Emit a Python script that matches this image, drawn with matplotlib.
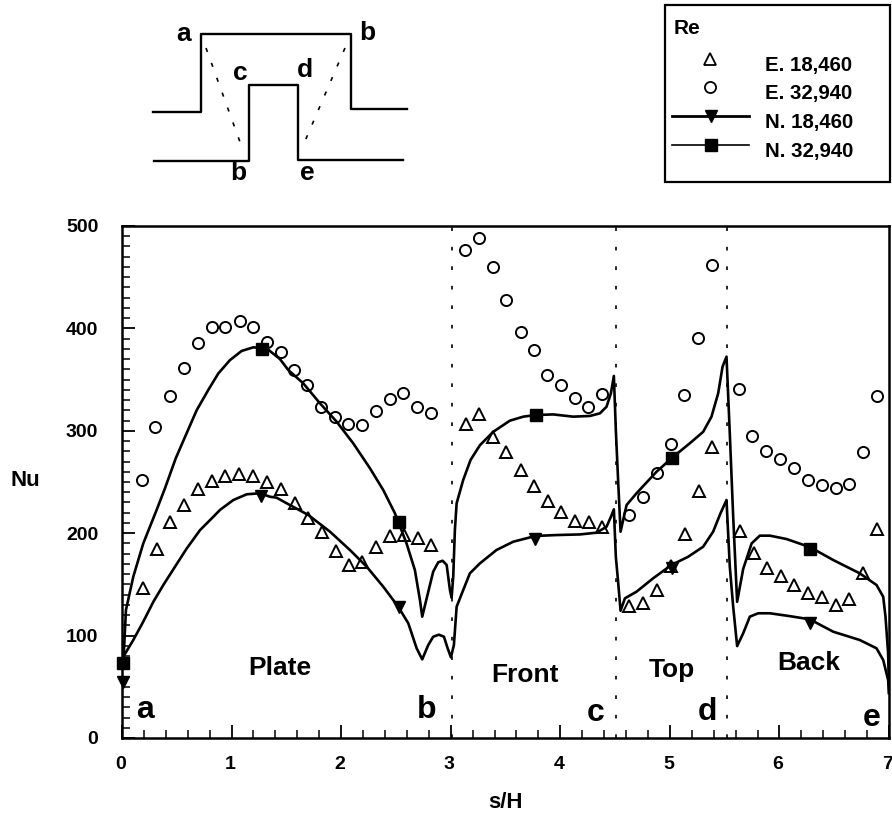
import matplotlib
matplotlib.use('Agg')
import matplotlib.pyplot as plt
from matplotlib.patches import Rectangle
from matplotlib.ticker import MultipleLocator
from matplotlib.transforms import ScaledTranslation

plt.rcParams['font.family'] = ['Liberation Sans', 'DejaVu Sans']
plt.rcParams['font.weight'] = 'bold'

W, H = 892, 815

# experimental points
exp_18460_x = [0.19, 0.316, 0.438, 0.569, 0.693, 0.821, 0.943, 1.07, 1.195, 1.323, 1.45, 1.578, 1.694,
               1.822, 1.95, 2.071, 2.193, 2.32, 2.448, 2.57, 2.698, 2.82,
               3.136, 3.26, 3.382, 3.507, 3.637, 3.762, 3.884, 4.008, 4.133, 4.258, 4.383,
               4.628, 4.754, 4.881, 5.008, 5.134, 5.262, 5.386,
               5.639, 5.764, 5.885, 6.013, 6.134, 6.262, 6.384, 6.512, 6.636, 6.76, 6.889]
exp_18460_y = [146, 185, 211, 227.5, 243, 251, 255.5, 257.5, 256, 249.7, 243, 229.8, 215,
               200.9, 182.3, 169, 172, 186.8, 197.3, 198, 195.3, 188.8,
               306.6, 316, 294, 279, 261.7, 246, 231.4, 220.7, 212.2, 211, 205.7,
               128.9, 132, 144.8, 168, 199.2, 241.5, 284.5,
               202.4, 181, 166, 158, 149.4, 141.9, 137.7, 129.9, 135.7, 161.4, 204.4]

exp_32940_x = [0.185, 0.304, 0.438, 0.563, 0.691, 0.818, 0.94, 1.074, 1.195, 1.32, 1.448, 1.569, 1.688,
               1.816, 1.94, 2.062, 2.193, 2.315, 2.448, 2.567, 2.689, 2.82,
               3.13, 3.257, 3.382, 3.504, 3.637, 3.756, 3.878, 4.008, 4.13, 4.249, 4.38,
               4.628, 4.754, 4.879, 5.006, 5.13, 5.253, 5.383,
               5.627, 5.754, 5.879, 6.004, 6.134, 6.259, 6.384, 6.512, 6.633, 6.76, 6.886]
exp_32940_y = [252, 304, 333.7, 361.6, 385.7, 401, 401.4, 407.2, 401.4, 387, 377, 359.7, 344.4,
               323, 313, 306.3, 306, 319, 331, 337, 323, 317.4,
               476.9, 488, 459.6, 427.7, 396, 378.6, 354.5, 344.7, 331.7, 323.2, 336.2,
               218, 235, 258.5, 287, 335, 390.3, 461.6,
               340.5, 295, 280, 272.5, 263.4, 252.2, 246.8, 244, 247.8, 279.3, 333.7]

# numerical curves
num_18460_x = [0.0, 0.012, 0.103, 0.194, 0.286, 0.377, 0.484, 0.59, 0.712, 0.833, 0.894, 1.016, 1.138, 1.26,
               1.35, 1.411, 1.503, 1.7, 1.898, 2.08, 2.233, 2.384, 2.521, 2.613, 2.689, 2.74, 2.795, 2.84,
               2.892, 2.938, 2.972, 3.002, 3.029, 3.054, 3.114, 3.175, 3.267, 3.418, 3.571, 3.774, 3.966,
               4.179, 4.331, 4.422, 4.462, 4.489, 4.507, 4.529, 4.55, 4.59, 4.696, 4.848, 5.015, 5.167,
               5.304, 5.395, 5.462, 5.517, 5.547, 5.578, 5.614, 5.669, 5.73, 5.806, 5.913, 6.095, 6.277,
               6.491, 6.733, 6.886, 6.947, 6.992, 7.0]
num_18460_y = [70, 79.4, 95.7, 113.6, 133, 149.4, 167.3, 185, 203, 216, 222.7, 232.4, 238, 239,
               235.6, 234.7, 229.2, 217.8, 201.5, 183.6, 167.3, 147.8, 128.2, 112, 87.6, 76.8, 90.8, 98.9,
               100.9, 98.9, 87.6, 78.8, 90.8, 128.2, 144.5, 160.8, 170.6, 183.6, 191.7, 197.3, 198.2,
               198.8, 200.5, 206.3, 216, 223.3, 177, 151, 124.3, 136.4, 142.9, 156, 169, 177,
               186.8, 201.5, 219.4, 232.4, 167.3, 128.2, 89.8, 102.2, 118.5, 121.8, 121.8, 119, 115.9,
               103.8, 95.7, 87.6, 76.2, 56.6, 44]

num_32940_x = [0.0, 0.012, 0.036, 0.103, 0.194, 0.316, 0.392, 0.49, 0.575, 0.681, 0.788, 0.879, 0.985, 1.092,
               1.198, 1.32, 1.442, 1.517, 1.654, 1.807, 1.959, 2.11, 2.263, 2.384, 2.491, 2.597, 2.673,
               2.719, 2.74, 2.777, 2.84, 2.886, 2.926, 2.963, 2.993, 3.008, 3.023, 3.038, 3.054, 3.114,
               3.181, 3.267, 3.388, 3.54, 3.662, 3.774, 3.936, 4.118, 4.27, 4.361, 4.422, 4.462, 4.489,
               4.507, 4.529, 4.55, 4.574, 4.605, 4.696, 4.878, 5.024, 5.182, 5.304, 5.38, 5.441, 5.481,
               5.517, 5.547, 5.578, 5.614, 5.669, 5.746, 5.821, 5.913, 6.065, 6.283, 6.491, 6.733, 6.886,
               6.947, 6.968, 6.992, 7.0]
num_32940_y = [70, 73, 125, 157.5, 190, 222.7, 243.8, 273, 294, 320, 340, 356, 369, 378,
               381.5, 380.5, 370, 359.4, 346.4, 326.8, 308.9, 287.8, 263.4, 242.2, 219.4, 190, 164,
               134.8, 118.5, 134.8, 162.4, 171.6, 173.1, 169, 144.5, 137, 157.5, 203, 229.2, 252,
               271.5, 286, 299, 309.9, 313.8, 315.4, 316, 313.8, 314.5, 317, 323.5, 336.6, 353.5,
               300.8, 248.7, 201.5, 212.9, 227.5, 239, 260, 274, 287.8, 299, 313.8, 336.6, 362.6,
               372.4, 297.5, 216, 133, 165, 190, 197.6, 197.6, 194.3, 186.2, 173.8, 160.8, 149.4,
               138, 118.5, 82.7, 44]

# line symbols
sym_18460_x = [0.01, 1.27, 2.527, 3.768, 5.015, 6.277]
sym_18460_y = [55, 236, 128, 194, 166, 112]
sym_32940_x = [0.012, 1.28, 2.527, 3.774, 5.02, 6.283]
sym_32940_y = [73, 380, 211, 315, 273, 185]

# section boundaries
section_x = [3.01, 4.51, 5.525]

region_names = ['Plate', 'Front', 'Top', 'Back']
region_x = [1.44, 3.677, 5.015, 6.268]
region_y = [68, 61.5, 66, 73]
corner_names = ['a', 'b', 'c', 'd', 'e']
corner_x = [0.21, 2.78, 4.326, 5.347, 6.84]
corner_y = [27, 27, 24, 25.7, 20]

fig = plt.figure(figsize=(W / 100, H / 100), dpi=100)
ax = fig.add_axes([122 / W, 1 - 738 / H, (889 - 122) / W, (738 - 226) / H])

for x in section_x:
    ax.plot([x, x], [0, 500], color='black', lw=1.2, dashes=(2.2, 9.5), zorder=1)

ax.plot(num_18460_x, num_18460_y, color='black', lw=1.9, zorder=3, solid_joinstyle='round')
ax.plot(num_32940_x, num_32940_y, color='black', lw=1.9, zorder=3, solid_joinstyle='round')
ax.plot(sym_18460_x, sym_18460_y, ls='none', marker='v', color='black', ms=9, clip_on=False, zorder=4)
ax.plot(sym_32940_x, sym_32940_y, ls='none', marker='s', color='black', ms=9, clip_on=False, zorder=4)
ax.plot(exp_18460_x, exp_18460_y, ls='none', marker='^', mfc='none', mec='black', mew=1.4, ms=8, zorder=5)
ax.plot(exp_32940_x, exp_32940_y, ls='none', marker='o', mfc='none', mec='black', mew=1.4, ms=8, zorder=5)

ax.set_xlim(0, 7)
ax.set_ylim(0, 500)
ax.xaxis.set_major_locator(MultipleLocator(1))
ax.xaxis.set_minor_locator(MultipleLocator(0.2))
ax.yaxis.set_major_locator(MultipleLocator(100))
ax.yaxis.set_minor_locator(MultipleLocator(10))
ax.tick_params(which='major', direction='in', length=9.5, width=1.3, labelsize=14)
ax.tick_params(which='minor', direction='in', length=5.5, width=1.1)
ax.tick_params(axis='x', which='major', pad=13)
ax.tick_params(axis='y', which='major', pad=17)
for s in ax.spines.values():
    s.set_linewidth(1.8)

# small shifts of the tick labels, as printed
x_shift = ScaledTranslation(-1.5 / 100, 0, fig.dpi_scale_trans)
for label in ax.get_xticklabels():
    label.set_transform(label.get_transform() + x_shift)
zero_shift = ScaledTranslation(6 / 100, -2 / 100, fig.dpi_scale_trans)
zero_label = ax.get_yticklabels()[0]
zero_label.set_transform(zero_label.get_transform() + zero_shift)

ax.set_xlabel('s/H', fontsize=16, fontweight='bold')
ax.xaxis.set_label_coords((505 - 122) / 767, -(802 - 738) / 512, transform=ax.transAxes)
ax.xaxis.label.set_va('center')
ax.set_ylabel('Nu', fontsize=16, fontweight='bold', rotation=0, va='center', ha='center')
ax.yaxis.set_label_coords((25 - 122) / 767, (738 - 481) / 512, transform=ax.transAxes)

for name, x, y in zip(region_names, region_x, region_y):
    ax.text(x, y, name, fontsize=19, ha='center', va='center')
for name, x, y in zip(corner_names, corner_x, corner_y):
    ax.text(x, y, name, fontsize=23, ha='center', va='center')

# overlay in pixel coordinates for the sketch and the legend box
ov = fig.add_axes([0, 0, 1, 1], facecolor='none')
ov.set_xlim(0, W)
ov.set_ylim(H, 0)
ov.axis('off')

outer_x = [152.7, 201, 201, 350.7, 350.7, 406.7]
outer_y = [112, 112, 34.3, 34.3, 108.7, 108.7]
inner_x = [154, 248.7, 248.7, 297.7, 297.7, 403.3]
inner_y = [161, 161, 84.7, 84.7, 160, 160]
ov.plot(outer_x, outer_y, color='black', lw=1.7)
ov.plot(inner_x, inner_y, color='black', lw=1.7)
ov.plot([206, 241.7], [48, 146.7], color='black', lw=1.2, dashes=(2.5, 7))
ov.plot([345, 303.3], [48, 145], color='black', lw=1.2, dashes=(2.5, 7))

sketch_labels = ['a', 'b', 'c', 'd', 'b', 'e']
sketch_x = [183.3, 367.3, 240.7, 304.7, 238.7, 307.3]
sketch_y = [34, 33.5, 73, 70, 173, 173]
for name, x, y in zip(sketch_labels, sketch_x, sketch_y):
    ov.text(x, y, name, fontsize=19, ha='center', va='center')

ov.add_patch(Rectangle((665, 5), 225, 177, fill=False, ec='black', lw=1.6))
ov.text(674, 28, 'Re', fontsize=15, va='center')

legend_labels = ['E. 18,460', 'E. 32,940', 'N. 18,460', 'N. 32,940']
legend_y = [65, 93, 122.7, 151]
for label, y in zip(legend_labels, legend_y):
    ov.text(765, y, label, fontsize=14.7, va='center')
ov.plot([710], [59], ls='none', marker='^', mfc='none', mec='black', mew=1.3, ms=8)
ov.plot([710], [86.7], ls='none', marker='o', mfc='none', mec='black', mew=1.3, ms=8)
ov.plot([672, 749], [115.7, 115.7], color='black', lw=2.0)
ov.plot([710.5], [115.5], ls='none', marker='v', color='black', ms=9)
ov.plot([672, 749], [144.5, 144.5], color='black', lw=1.2)
ov.plot([710.5], [145], ls='none', marker='s', color='black', ms=9)

fig.savefig('out.png', dpi=100)
plt.close(fig)
